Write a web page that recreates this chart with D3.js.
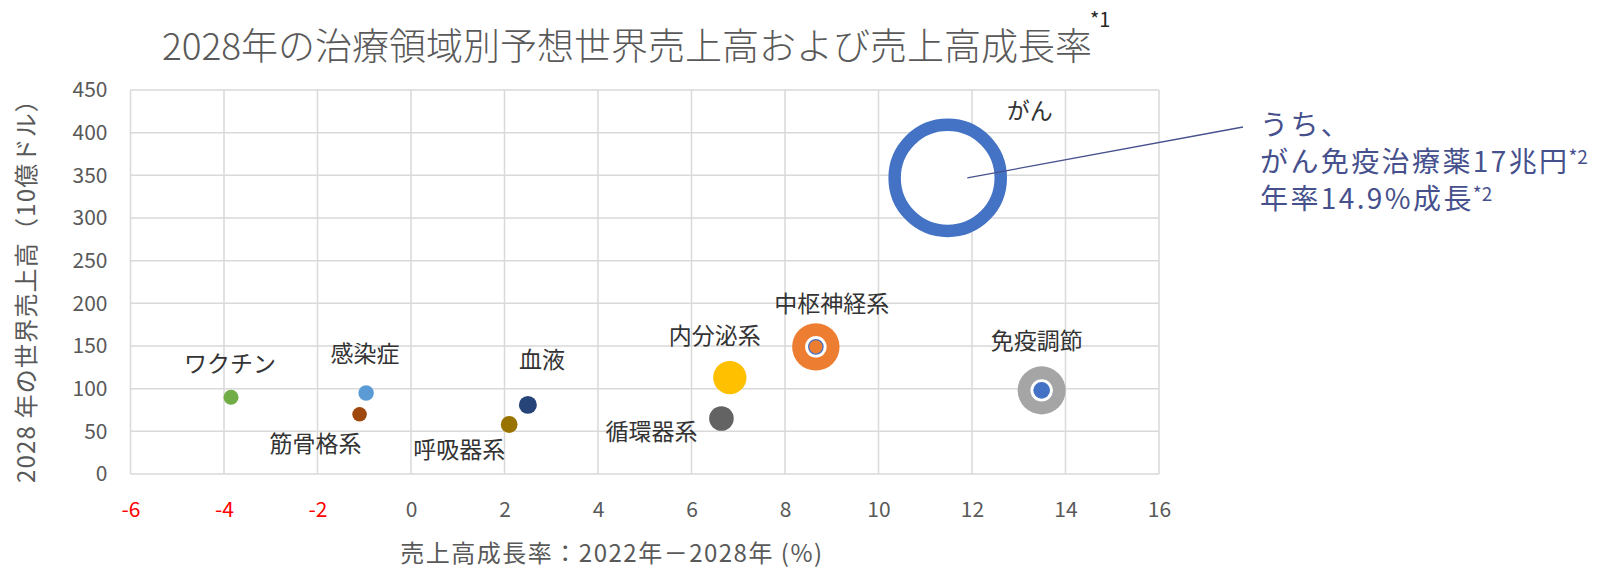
<!DOCTYPE html>
<html><head><meta charset="utf-8">
<script src="https://cdn.jsdelivr.net/npm/d3@7"></script>
<style>
body{margin:0;background:#fff}
svg{display:block}
text{font-family:"Noto Sans CJK JP","Noto Sans",sans-serif}
</style>
</head><body>
<svg id="c" width="1608" height="568"></svg>
<script>
// ---- data ----
const categories = ["がん","中枢神経系","免疫調節","内分泌系","感染症","ワクチン","血液","筋骨格系","循環器系","呼吸器系"];
const growthRate = [11.48, 8.66, 13.49, 6.82, -0.96, -3.85, 2.50, -1.10, 6.64, 2.10];
const sales2028  = [347, 149, 98, 113, 95, 90, 81, 70, 65, 58];
const bubbleSize = [100, 16.0, 16.4, 7.9, 1.7, 1.6, 2.3, 1.5, 4.3, 2.0];
const innerSize  = [0, 1.5, 1.7, 0, 0, 0, 0, 0, 0, 0];
const xTicks = [-6,-4,-2,0,2,4,6,8,10,12,14,16];
const yTicks = [0,50,100,150,200,250,300,350,400,450];
const titleText = "2028年の治療領域別予想世界売上高および売上高成長率";
const xTitle = "売上高成長率：2022年－2028年 (%)";
const yTitle = "2028 年の世界売上高（10億ドル）";
const noteLines = [["うち、",""],["がん免疫治療薬17兆円","*2"],["年率14.9%成長","*2"]];

// ---- layout / style ----
const palette = ["#4472C4","#ED7D31","#A5A5A5","#FFC000","#5B9BD5","#70AD47","#264478","#9E480E","#636363","#997300"];
const labelOffset = [[82,-67],[16,-43],[-5,-49],[-15,-42],[-1,-39],[-1,-33],[14,-45],[-44,30],[-70,13],[-50,25]];
const svg = d3.select("#c");
const x = d3.scaleLinear().domain([-6,16]).range([130.5,1159]);
const y = d3.scaleLinear().domain([0,450]).range([474,90]);
const r = d3.scaleSqrt().domain([0,100]).range([0,59.3]);
const grey = "#595959";

// grid
const grid = svg.append("g");
grid.selectAll("line.v").data(xTicks).join("line")
  .attr("x1", d=>x(d)).attr("x2", d=>x(d)).attr("y1", y(0)).attr("y2", y(450))
  .attr("stroke","#D9D9D9").attr("stroke-width",1.5);
grid.selectAll("line.h").data(yTicks).join("line")
  .attr("x1", x(-6)).attr("x2", x(16)).attr("y1", d=>y(d)).attr("y2", d=>y(d))
  .attr("stroke","#D9D9D9").attr("stroke-width",1.5);

// axes tick labels
const xAxis = svg.append("g").attr("transform",`translate(0,${y(0)})`)
  .call(d3.axisBottom(x).tickValues(xTicks).tickSize(0).tickPadding(28).tickFormat(d => String(d)));
xAxis.select(".domain").remove();
xAxis.selectAll("text").attr("font-size",21).attr("font-family",'"Noto Sans CJK JP",sans-serif')
  .attr("fill", d=> d<0 ? "#FF0000" : grey);

const yAxis = svg.append("g").attr("transform",`translate(${x(-6)},0)`)
  .call(d3.axisLeft(y).tickValues(yTicks).tickSize(0).tickPadding(23).tickFormat(d => String(d)));
yAxis.select(".domain").remove();
yAxis.selectAll("text").attr("font-size",21).attr("font-family",'"Noto Sans CJK JP",sans-serif').attr("fill",grey);

// title
svg.append("text").attr("x",627).attr("y",60).attr("text-anchor","middle")
  .attr("font-size",37).attr("font-weight",300).attr("fill",grey).text(titleText);
svg.append("text").attr("x",1090).attr("y",27).attr("font-size",20).attr("fill","#262626").text("*1");

// axis titles
svg.append("text").attr("x",612).attr("y",562).attr("text-anchor","middle")
  .attr("font-size",24).attr("letter-spacing",1.5).attr("fill",grey).text(xTitle);
svg.append("text").attr("transform","translate(35,285) rotate(-90)").attr("text-anchor","middle")
  .attr("font-size",24).attr("letter-spacing",1.2).attr("fill",grey).text(yTitle);

// bubbles
const idx = d3.range(categories.length);
const b = svg.append("g");
idx.forEach(i=>{
  const cx = x(growthRate[i]), cy = y(sales2028[i]), rr = r(bubbleSize[i]);
  if (i===0) {
    b.append("circle").attr("cx",cx).attr("cy",cy).attr("r",rr-6.25)
      .attr("fill","#fff").attr("stroke",palette[i]).attr("stroke-width",12.5);
  } else {
    b.append("circle").attr("cx",cx).attr("cy",cy).attr("r",rr).attr("fill",palette[i]);
  }
  if (innerSize[i]>0) {
    const ir = r(innerSize[i]);
    b.append("circle").attr("cx",cx).attr("cy",cy).attr("r",ir+3.5).attr("fill","#fff");
    b.append("circle").attr("cx",cx).attr("cy",cy).attr("r",ir)
      .attr("fill", i===1 ? palette[1] : palette[0]).attr("stroke",palette[0]).attr("stroke-width",1.2);
  }
});

// data labels
svg.append("g").selectAll("text").data(idx).join("text")
  .attr("x", i=>x(growthRate[i])+labelOffset[i][0])
  .attr("y", i=>y(sales2028[i])+labelOffset[i][1])
  .attr("dy","0.35em").attr("text-anchor","middle")
  .attr("font-size",23).attr("fill","#333").text(i=>categories[i]);

// callout
const noteColor = "#46508C";
svg.append("line").attr("x1",x(11.9)).attr("y1",y(sales2028[0])).attr("x2",1243).attr("y2",127)
  .attr("stroke",noteColor).attr("stroke-width",1.3);
const note = svg.append("g");
noteLines.forEach((ln,k)=>{
  const t = note.append("text").attr("x",1260).attr("y",135+k*37)
    .attr("font-size",28).attr("letter-spacing",2.4).attr("fill",noteColor);
  t.append("tspan").text(ln[0]);
  if (ln[1]) t.append("tspan").attr("font-size",19).attr("letter-spacing",0).attr("dx",-1).attr("dy",-8).text(ln[1]);
});
</script>
</body></html>
